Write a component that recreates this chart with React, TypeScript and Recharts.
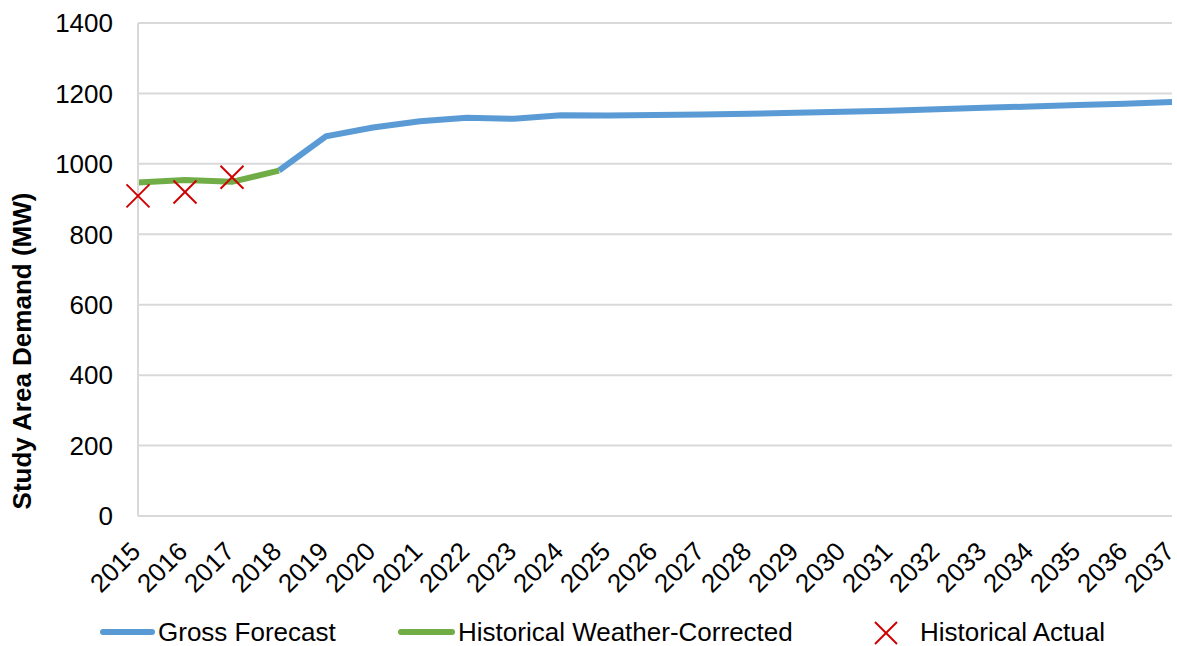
import { ComposedChart, Line, XAxis, YAxis, CartesianGrid } from 'recharts';

// ---------------------------------------------------------------------------
// Data
// ---------------------------------------------------------------------------

const YEARS = [
  '2015', '2016', '2017', '2018', '2019', '2020', '2021', '2022', '2023', '2024', '2025', '2026',
  '2027', '2028', '2029', '2030', '2031', '2032', '2033', '2034', '2035', '2036', '2037',
];

const GROSS_FORECAST: (number | null)[] = [
  null, null, null, 981, 1078, 1103, 1121, 1131, 1128, 1138, 1137, 1139,
  1140, 1142, 1145, 1148, 1151, 1155, 1159, 1163, 1167, 1171, 1176,
];

const WEATHER_CORRECTED: (number | null)[] = [
  947, 954, 949, 981, null, null, null, null, null, null, null, null,
  null, null, null, null, null, null, null, null, null, null, null,
];

const HISTORICAL_ACTUAL: (number | null)[] = [
  909, 920, 962, null, null, null, null, null, null, null, null, null,
  null, null, null, null, null, null, null, null, null, null, null,
];

const Y_TICKS = [0, 200, 400, 600, 800, 1000, 1200, 1400];

const COLORS = {
  gross: '#5b9bd5',
  weather: '#70ad47',
  actual: '#d00000',
  grid: '#d9d9d9',
  text: '#000000',
};

const FONT = '"Liberation Sans", Arial, sans-serif';

const data = YEARS.map((year, i) => ({
  year,
  gross: GROSS_FORECAST[i],
  weather: WEATHER_CORRECTED[i],
  actual: HISTORICAL_ACTUAL[i],
}));

// ---------------------------------------------------------------------------
// Custom pieces
// ---------------------------------------------------------------------------

function XMark({ cx, cy, payload }: any) {
  if (cx == null || cy == null || payload?.actual == null) return null;
  const r = 11.5;
  return (
    <g stroke={COLORS.actual} strokeWidth={2}>
      <line x1={cx - r} y1={cy - r} x2={cx + r} y2={cy + r} />
      <line x1={cx - r} y1={cy + r} x2={cx + r} y2={cy - r} />
    </g>
  );
}

function YearTick({ x, y, payload }: any) {
  return (
    <g transform={`translate(${x + 4},${y + 37})`}>
      <text
        textAnchor="end"
        transform="rotate(-45)"
        fontSize={26}
        fontFamily={FONT}
        fill={COLORS.text}
      >
        {payload.value}
      </text>
    </g>
  );
}

function AxisTitle() {
  return (
    <text
      transform="translate(31,351) rotate(-90)"
      textAnchor="middle"
      fontSize={26}
      fontWeight="bold"
      fontFamily={FONT}
      fill={COLORS.text}
    >
      Study Area Demand (MW)
    </text>
  );
}

function LegendRow() {
  const label = { fontSize: 26, fontFamily: FONT, color: COLORS.text, position: 'absolute' as const, top: 0, lineHeight: '30px' };
  return (
    <div style={{ position: 'absolute', left: 0, top: 617, width: 1177, height: 30 }}>
      <div style={{ position: 'absolute', left: 100, top: 12, width: 55, height: 6, borderRadius: 3, background: COLORS.gross }} />
      <span style={{ ...label, left: 158 }}>Gross Forecast</span>
      <div style={{ position: 'absolute', left: 398, top: 12, width: 57, height: 6, borderRadius: 3, background: COLORS.weather }} />
      <span style={{ ...label, left: 458 }}>Historical Weather-Corrected</span>
      <svg style={{ position: 'absolute', left: 874, top: 4 }} width={24} height={24}>
        <line x1={1} y1={1} x2={23} y2={23} stroke={COLORS.actual} strokeWidth={2} />
        <line x1={1} y1={23} x2={23} y2={1} stroke={COLORS.actual} strokeWidth={2} />
      </svg>
      <span style={{ ...label, left: 920 }}>Historical Actual</span>
    </div>
  );
}

// ---------------------------------------------------------------------------
// App
// ---------------------------------------------------------------------------

export default function App() {
  return (
    <div style={{ position: 'absolute', left: 0, top: 0, width: 1177, height: 646, background: '#fff' }}>
      <ComposedChart
        width={1177}
        height={646}
        data={data}
        margin={{ top: 23, right: 5, bottom: 50, left: 0 }}
      >
        <CartesianGrid vertical={false} stroke={COLORS.grid} strokeWidth={2} />
        <XAxis
          dataKey="year"
          interval={0}
          height={80}
          tickLine={false}
          tickSize={0}
          tickMargin={0}
          axisLine={{ stroke: COLORS.grid, strokeWidth: 2 }}
          tick={<YearTick />}
          padding={{ left: 0, right: 0 }}
        />
        <YAxis
          width={138}
          domain={[0, 1400]}
          ticks={Y_TICKS}
          tickLine={false}
          tickSize={0}
          tickMargin={25}
          axisLine={{ stroke: COLORS.grid, strokeWidth: 2 }}
          tick={{ fontSize: 26, fontFamily: FONT, fill: COLORS.text }}
          label={{ content: () => <AxisTitle /> }}
        />
        <Line
          dataKey="gross"
          stroke={COLORS.gross}
          strokeWidth={6}
          dot={false}
          activeDot={false}
          isAnimationActive={false}
        />
        <Line
          dataKey="weather"
          stroke={COLORS.weather}
          strokeWidth={6}
          dot={false}
          activeDot={false}
          isAnimationActive={false}
        />
        <Line
          dataKey="actual"
          stroke="none"
          dot={<XMark />}
          activeDot={false}
          isAnimationActive={false}
        />
      </ComposedChart>
      <LegendRow />
    </div>
  );
}
